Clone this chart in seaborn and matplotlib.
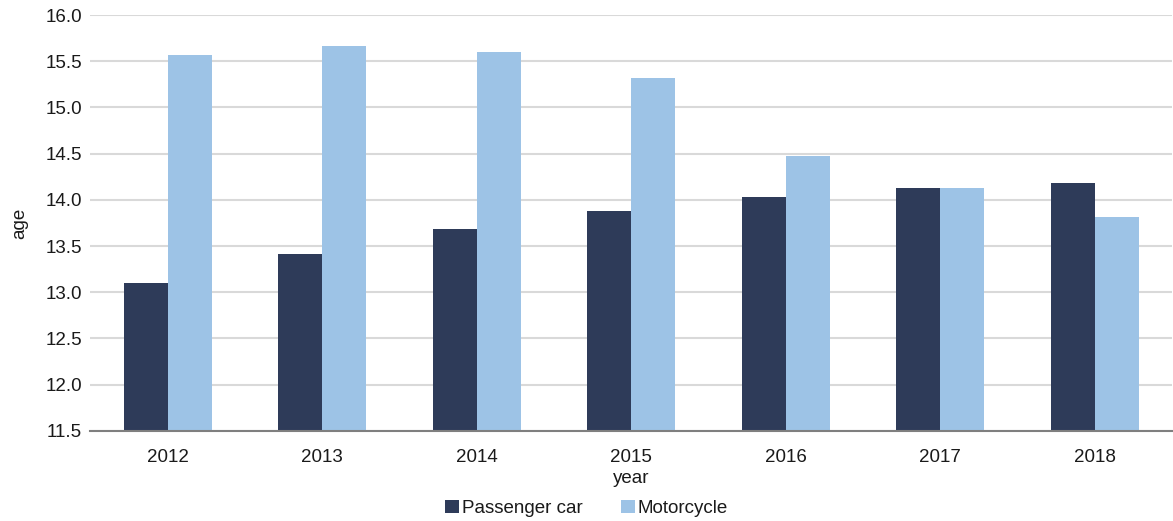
import matplotlib
matplotlib.use("Agg")
import matplotlib.pyplot as plt
import seaborn as sns
import pandas as pd
from matplotlib.patches import Patch

years = ["2012", "2013", "2014", "2015", "2016", "2017", "2018"]
passenger_car = [13.10, 13.41, 13.69, 13.88, 14.03, 14.13, 14.18]
motorcycle = [15.57, 15.67, 15.60, 15.32, 14.48, 14.13, 13.82]
series_names = ["Passenger car", "Motorcycle"]
colors = ["#2E3B59", "#9DC3E6"]

df = pd.DataFrame({
    "year": years * 2,
    "age": passenger_car + motorcycle,
    "vehicle": [series_names[0]] * len(years) + [series_names[1]] * len(years),
})

sns.set_theme(style="white")
plt.rcParams["font.family"] = ["Liberation Sans", "DejaVu Sans"]
plt.rcParams["text.color"] = "#1A1A1A"
plt.rcParams["axes.labelcolor"] = "#1A1A1A"
plt.rcParams["xtick.color"] = "#1A1A1A"
plt.rcParams["ytick.color"] = "#1A1A1A"

fig, ax = plt.subplots(figsize=(11.73, 5.21), dpi=100)
fig.subplots_adjust(left=0.077, right=0.999, top=0.971, bottom=0.173)

sns.barplot(data=df, x="year", y="age", hue="vehicle", palette=colors,
            width=0.57, ax=ax, legend=False, saturation=1, linewidth=0)

fs = 13.5
ax.set_ylim(11.5, 16.0)
ax.set_yticks([11.5 + 0.5 * i for i in range(10)])
ax.set_yticklabels([f"{11.5 + 0.5 * i:.1f}" for i in range(10)], fontsize=fs)
ax.tick_params(axis="x", labelsize=fs, length=0, pad=13)
ax.tick_params(axis="y", length=0, pad=6)
ax.yaxis.grid(True, color="#D9D9D9", linewidth=1.5)
ax.set_axisbelow(True)
for side in ["top", "right", "left"]:
    ax.spines[side].set_visible(False)
ax.spines["bottom"].set_color("#7F7F7F")
ax.spines["bottom"].set_linewidth(1.5)

ax.set_xlabel("year", fontsize=fs, labelpad=3)
ax.set_ylabel("age", fontsize=fs, labelpad=12)

handles = [Patch(facecolor=c, edgecolor="none") for c in colors]
fig.legend(handles, series_names, loc="lower center", ncol=2, frameon=False,
           fontsize=fs, bbox_to_anchor=(0.5, -0.025), handlelength=0.75,
           handleheight=0.75, handletextpad=0.15, columnspacing=2.0)

fig.savefig("out.png", dpi=100)
